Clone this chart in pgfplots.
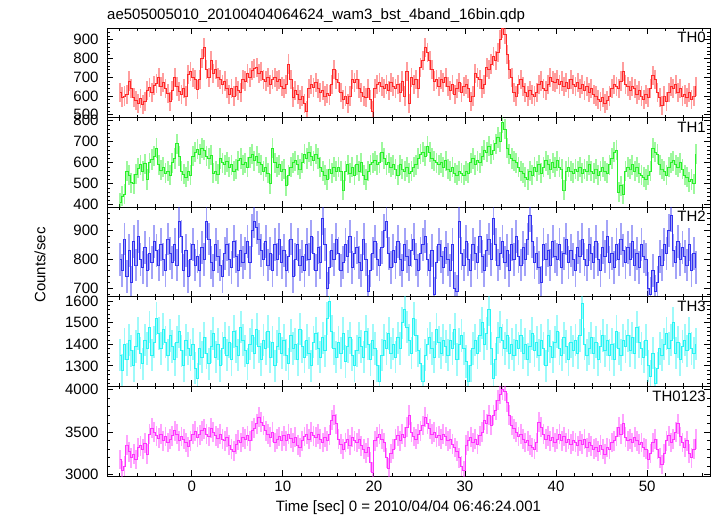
\documentclass[border=0pt]{standalone}
\usepackage{fontspec}
\setmainfont{Liberation Sans}
\usepackage{pgfplots}
\usepackage{pgfplotstable}
\pgfplotsset{compat=1.18}
\usepgfplotslibrary{groupplots}
\usetikzlibrary{calc}
\definecolor{cth0}{RGB}{255,40,40}
\definecolor{cth1}{RGB}{40,240,40}
\definecolor{cth2}{RGB}{50,50,240}
\definecolor{cth3}{RGB}{40,245,245}
\definecolor{cth4}{RGB}{255,50,255}

% TH0, 0.25 s bins starting at t=-7.875
\pgfplotstableread[row sep=\\]{
y\\
620\\595\\600\\610\\680\\640\\590\\575\\
560\\585\\555\\570\\630\\645\\620\\655\\
665\\700\\650\\670\\640\\615\\570\\630\\
700\\650\\625\\610\\640\\600\\715\\730\\
700\\690\\635\\690\\800\\860\\740\\700\\
790\\720\\740\\700\\690\\660\\680\\640\\
610\\640\\600\\650\\630\\620\\690\\680\\
720\\700\\735\\745\\750\\720\\730\\690\\
680\\700\\660\\690\\700\\680\\690\\650\\
640\\660\\770\\690\\595\\630\\610\\580\\
600\\560\\520\\640\\660\\645\\670\\640\\
620\\630\\600\\615\\605\\660\\740\\690\\
670\\620\\580\\600\\560\\600\\690\\670\\
690\\640\\620\\600\\590\\640\\580\\520\\
640\\660\\670\\650\\640\\660\\630\\670\\
650\\640\\660\\620\\680\\600\\730\\560\\
700\\660\\690\\640\\750\\790\\860\\830\\
790\\740\\680\\690\\650\\690\\670\\700\\
650\\630\\660\\610\\640\\670\\620\\650\\
660\\640\\570\\600\\720\\700\\690\\640\\
660\\750\\740\\770\\810\\790\\830\\900\\
960\\930\\820\\740\\700\\620\\600\\660\\
690\\650\\620\\600\\630\\610\\600\\620\\
660\\680\\640\\630\\660\\700\\680\\670\\
690\\660\\680\\650\\670\\640\\690\\660\\
650\\670\\640\\660\\630\\650\\620\\640\\
610\\600\\580\\570\\590\\560\\575\\600\\
640\\660\\650\\640\\680\\730\\660\\650\\
630\\650\\640\\610\\630\\600\\580\\610\\
590\\640\\710\\690\\620\\590\\550\\600\\
570\\620\\650\\640\\660\\620\\640\\600\\
610\\590\\620\\580\\600\\650\\
}\thzero

\pgfplotstableread[row sep=\\]{
y\\
410\\440\\450\\560\\540\\505\\500\\545\\
575\\590\\560\\595\\520\\600\\615\\630\\
670\\590\\565\\580\\550\\560\\540\\600\\
620\\690\\630\\560\\545\\530\\560\\540\\
630\\650\\665\\640\\670\\660\\630\\620\\
635\\550\\560\\545\\620\\600\\590\\605\\
580\\590\\560\\570\\610\\620\\590\\600\\
580\\625\\640\\610\\630\\600\\590\\560\\
580\\550\\500\\670\\600\\580\\590\\560\\
570\\490\\540\\580\\600\\610\\590\\570\\
600\\640\\620\\650\\630\\610\\640\\620\\
580\\560\\540\\520\\570\\550\\580\\560\\
580\\560\\470\\560\\590\\550\\580\\540\\
590\\560\\600\\540\\520\\560\\590\\600\\
610\\590\\600\\650\\620\\590\\600\\580\\
590\\570\\540\\590\\570\\560\\580\\550\\
560\\580\\590\\620\\640\\650\\630\\680\\
650\\620\\610\\600\\590\\600\\580\\610\\
570\\560\\580\\550\\540\\560\\550\\540\\
560\\550\\600\\620\\590\\610\\600\\630\\
660\\650\\680\\640\\660\\690\\720\\700\\
790\\760\\670\\640\\620\\610\\600\\580\\
560\\550\\530\\520\\560\\540\\580\\560\\
590\\550\\580\\610\\590\\570\\600\\580\\
610\\580\\570\\470\\560\\580\\560\\550\\
570\\560\\580\\550\\570\\560\\590\\560\\
550\\570\\540\\560\\580\\560\\550\\590\\
620\\650\\660\\460\\490\\450\\560\\580\\
570\\590\\560\\580\\550\\540\\530\\520\\
540\\560\\670\\650\\640\\590\\570\\560\\
540\\580\\600\\610\\590\\580\\600\\570\\
540\\530\\510\\520\\500\\640\\
}\thone

\pgfplotstableread[row sep=\\]{
y\\
800\\760\\870\\740\\830\\720\\860\\780\\
880\\800\\770\\840\\760\\820\\790\\860\\
830\\780\\850\\800\\760\\870\\820\\790\\
850\\780\\930\\880\\760\\830\\740\\800\\
850\\780\\810\\760\\840\\800\\930\\870\\
790\\760\\850\\810\\780\\740\\820\\850\\
800\\770\\860\\810\\760\\830\\790\\820\\
860\\790\\900\\930\\910\\870\\830\\800\\
860\\780\\820\\760\\850\\800\\870\\790\\
830\\760\\810\\870\\740\\800\\850\\780\\
810\\760\\850\\800\\880\\820\\760\\840\\
790\\940\\850\\700\\770\\830\\800\\870\\
820\\760\\790\\850\\810\\880\\770\\820\\
840\\790\\760\\870\\800\\690\\760\\820\\
860\\800\\780\\840\\900\\930\\820\\770\\
830\\790\\860\\800\\760\\850\\810\\780\\
830\\870\\800\\760\\820\\850\\880\\800\\
760\\830\\680\\790\\850\\810\\770\\840\\
800\\760\\850\\700\\690\\930\\820\\780\\
860\\800\\760\\850\\820\\790\\880\\810\\
760\\830\\870\\800\\940\\850\\780\\820\\
860\\790\\830\\760\\850\\800\\880\\810\\
780\\840\\800\\870\\950\\860\\790\\820\\
770\\720\\850\\800\\830\\780\\860\\810\\
800\\850\\770\\820\\870\\790\\830\\800\\
760\\840\\810\\870\\800\\780\\850\\820\\
790\\860\\800\\760\\840\\810\\880\\790\\
820\\770\\850\\800\\870\\830\\790\\840\\
800\\860\\780\\820\\770\\850\\810\\800\\
700\\680\\760\\690\\720\\810\\780\\850\\
820\\900\\950\\830\\790\\860\\800\\840\\
810\\780\\850\\760\\820\\770\\
}\thtwo

\pgfplotstableread[row sep=\\]{
y\\
1350\\1280\\1400\\1330\\1420\\1370\\1300\\1390\\
1450\\1360\\1310\\1420\\1380\\1480\\1350\\1410\\
1520\\1450\\1380\\1470\\1410\\1350\\1440\\1390\\
1330\\1410\\1460\\1370\\1300\\1420\\1380\\1350\\
1400\\1290\\1240\\1380\\1340\\1430\\1360\\1310\\
1390\\1450\\1340\\1400\\1300\\1380\\1430\\1350\\
1410\\1330\\1460\\1390\\1350\\1480\\1420\\1370\\
1310\\1400\\1440\\1360\\1470\\1390\\1330\\1420\\
1380\\1460\\1340\\1410\\1300\\1390\\1450\\1360\\
1420\\1350\\1310\\1440\\1380\\1400\\1330\\1470\\
1390\\1340\\1420\\1360\\1300\\1410\\1450\\1380\\
1340\\1430\\1370\\1520\\1600\\1460\\1380\\1340\\
1410\\1360\\1450\\1320\\1390\\1430\\1350\\1300\\
1370\\1430\\1390\\1340\\1460\\1400\\1330\\1420\\
1380\\1300\\1230\\1350\\1420\\1380\\1450\\1360\\
1400\\1340\\1430\\1380\\1500\\1560\\1480\\1420\\
1360\\1520\\1440\\1370\\1310\\1230\\1350\\1400\\
1430\\1380\\1340\\1470\\1410\\1360\\1420\\1390\\
1350\\1420\\1380\\1470\\1330\\1400\\1440\\1380\\
1320\\1230\\1300\\1380\\1420\\1360\\1440\\1500\\
1400\\1450\\1560\\1380\\1240\\1330\\1430\\1480\\
1420\\1380\\1440\\1360\\1400\\1350\\1420\\1380\\
1440\\1360\\1400\\1330\\1390\\1450\\1370\\1410\\
1350\\1420\\1380\\1300\\1440\\1390\\1340\\1410\\
1460\\1380\\1350\\1430\\1390\\1330\\1410\\1370\\
1420\\1360\\1440\\1590\\1400\\1350\\1380\\1430\\
1360\\1410\\1330\\1390\\1440\\1370\\1420\\1350\\
1400\\1330\\1460\\1380\\1350\\1420\\1390\\1440\\
1370\\1430\\1360\\1480\\1410\\1380\\1340\\1420\\
1300\\1250\\1360\\1220\\1290\\1380\\1350\\1400\\
1450\\1380\\1420\\1500\\1360\\1410\\1330\\1390\\
1420\\1370\\1450\\1380\\1360\\1400\\
}\ththree

\pgfplotstableread[row sep=\\]{
y\\
3180\\3050\\3100\\3350\\3270\\3200\\3240\\3180\\
3320\\3340\\3300\\3370\\3240\\3480\\3550\\3500\\
3460\\3430\\3480\\3400\\3450\\3380\\3420\\3460\\
3520\\3480\\3400\\3450\\3420\\3380\\3330\\3400\\
3480\\3510\\3440\\3470\\3520\\3540\\3480\\3450\\
3550\\3500\\3460\\3430\\3480\\3420\\3400\\3440\\
3350\\3300\\3280\\3360\\3410\\3380\\3440\\3420\\
3460\\3400\\3520\\3550\\3600\\3680\\3620\\3580\\
3520\\3480\\3440\\3500\\3380\\3420\\3450\\3400\\
3460\\3400\\3480\\3430\\3380\\3440\\3350\\3320\\
3400\\3450\\3480\\3420\\3500\\3460\\3440\\3480\\
3420\\3380\\3440\\3400\\3470\\3640\\3700\\3600\\
3420\\3360\\3300\\3380\\3420\\3350\\3440\\3400\\
3380\\3420\\3340\\3300\\3260\\3320\\3150\\3030\\
3400\\3440\\3480\\3420\\3380\\3200\\3080\\3250\\
3300\\3420\\3460\\3400\\3480\\3440\\3560\\3700\\
3500\\3450\\3420\\3480\\3520\\3580\\3680\\3600\\
3540\\3480\\3500\\3440\\3460\\3420\\3480\\3450\\
3400\\3420\\3360\\3320\\3280\\3200\\3100\\3050\\
3350\\3400\\3440\\3380\\3420\\3360\\3460\\3500\\
3640\\3600\\3700\\3580\\3700\\3760\\3880\\3950\\
4000\\3980\\3850\\3700\\3580\\3540\\3500\\3450\\
3480\\3420\\3380\\3400\\3350\\3320\\3300\\3380\\
3620\\3560\\3480\\3420\\3460\\3400\\3440\\3380\\
3420\\3480\\3400\\3450\\3380\\3420\\3360\\3400\\
3380\\3340\\3400\\3360\\3420\\3320\\3380\\3340\\
3300\\3320\\3280\\3350\\3300\\3240\\3320\\3300\\
3380\\3400\\3450\\3560\\3480\\3600\\3440\\3400\\
3420\\3380\\3440\\3400\\3360\\3380\\3320\\3300\\
3180\\3250\\3380\\3420\\3300\\3200\\3120\\3250\\
3400\\3460\\3380\\3420\\3500\\3600\\3450\\3380\\
3320\\3400\\3250\\3200\\3300\\3420\\
}\thsum

\pgfplotsset{
  lc/.style 2 args={const plot mark mid, no markers, color=#1, line width=0.8bp,
    error bars/.cd, y dir=both, y fixed=#2, error mark=none,
    error bar style={line width=1.8bp, opacity=0.45, color=#1}},
}

\begin{document}
\begin{tikzpicture}
\begin{groupplot}[
  group style={group size=1 by 5, vertical sep=0pt, xticklabels at=edge bottom, group name=grp},
  width=603bp, height=89.6bp, scale only axis,
  xmin=-9.3, xmax=56.9,
  xtick={-10,0,10,20,30,40,50,60}, minor x tick num=4,
  minor y tick num=4,
  tick align=inside, xtick pos=both, ytick pos=both,
  major tick length=6bp, minor tick length=3bp,
  axis line style={line width=0.8bp},
  every tick/.style={black, line width=0.8bp},
  every minor tick/.style={black, line width=0.6bp},
  tick label style={font=\fontsize{15bp}{18bp}\selectfont},
  /pgf/number format/assume math mode=true,
  /pgf/number format/1000 sep={},
  yticklabel style={xshift=-5bp},
  xticklabel style={yshift=-2bp},
  every axis plot/.append style={},
]
\nextgroupplot[ymin=485, ymax=962, ytick={400,500,...,1000}]
\addplot[lc={cth0}{51}] table[x expr=\coordindex*0.25-7.875, y index=0] {\thzero};
\node[anchor=north east, inner sep=0pt, font=\fontsize{15bp}{18bp}\selectfont, xshift=-4bp, yshift=-4bp] at (rel axis cs:1,1) {TH0};

\nextgroupplot[ymin=388, ymax=815, ytick={300,400,...,900}]
\addplot[lc={cth1}{48}] table[x expr=\coordindex*0.25-7.875, y index=0] {\thone};
\node[anchor=north east, inner sep=0pt, font=\fontsize{15bp}{18bp}\selectfont, xshift=-4bp, yshift=-4bp] at (rel axis cs:1,1) {TH1};

\nextgroupplot[ymin=670, ymax=980, ytick={600,700,...,1000}]
\addplot[lc={cth2}{57}] table[x expr=\coordindex*0.25-7.875, y index=0] {\thtwo};
\node[anchor=north east, inner sep=0pt, font=\fontsize{15bp}{18bp}\selectfont, xshift=-4bp, yshift=-4bp] at (rel axis cs:1,1) {TH2};

\nextgroupplot[ymin=1205, ymax=1620, ytick={1100,1200,...,1700}]
\addplot[lc={cth3}{75}] table[x expr=\coordindex*0.25-7.875, y index=0] {\ththree};
\node[anchor=north east, inner sep=0pt, font=\fontsize{15bp}{18bp}\selectfont, xshift=-4bp, yshift=-4bp] at (rel axis cs:1,1) {TH3};

\nextgroupplot[ymin=2985, ymax=4040, ytick={2500,3000,3500,4000,4500}]
\addplot[lc={cth4}{117}] table[x expr=\coordindex*0.25-7.875, y index=0] {\thsum};
\node[anchor=north east, inner sep=0pt, font=\fontsize{15bp}{18bp}\selectfont, xshift=-4bp, yshift=-4bp] at (rel axis cs:1,1) {TH0123};
\end{groupplot}

\node[anchor=base west, inner sep=0pt, font=\fontsize{15bp}{18bp}\selectfont] at ($(grp c1r1.north west)+(0bp,9bp)$) {ae505005010\_20100404064624\_wam3\_bst\_4band\_16bin.qdp};
\node[rotate=90, inner sep=0pt, font=\fontsize{15bp}{18bp}\selectfont] at ($(grp c1r5.south west)+(-67bp,211bp)$) {Counts/sec};
\node[inner sep=0pt, font=\fontsize{15bp}{18bp}\selectfont] at ($(grp c1r5.south)+(0bp,-32bp)$) {Time [sec] 0 = 2010/04/04 06:46:24.001};

\pgfresetboundingbox
\path[use as bounding box] ($(grp c1r5.south west)+(-107bp,-40bp)$) rectangle ($(grp c1r1.north east)+(7bp,28bp)$);
\end{tikzpicture}
\end{document}
